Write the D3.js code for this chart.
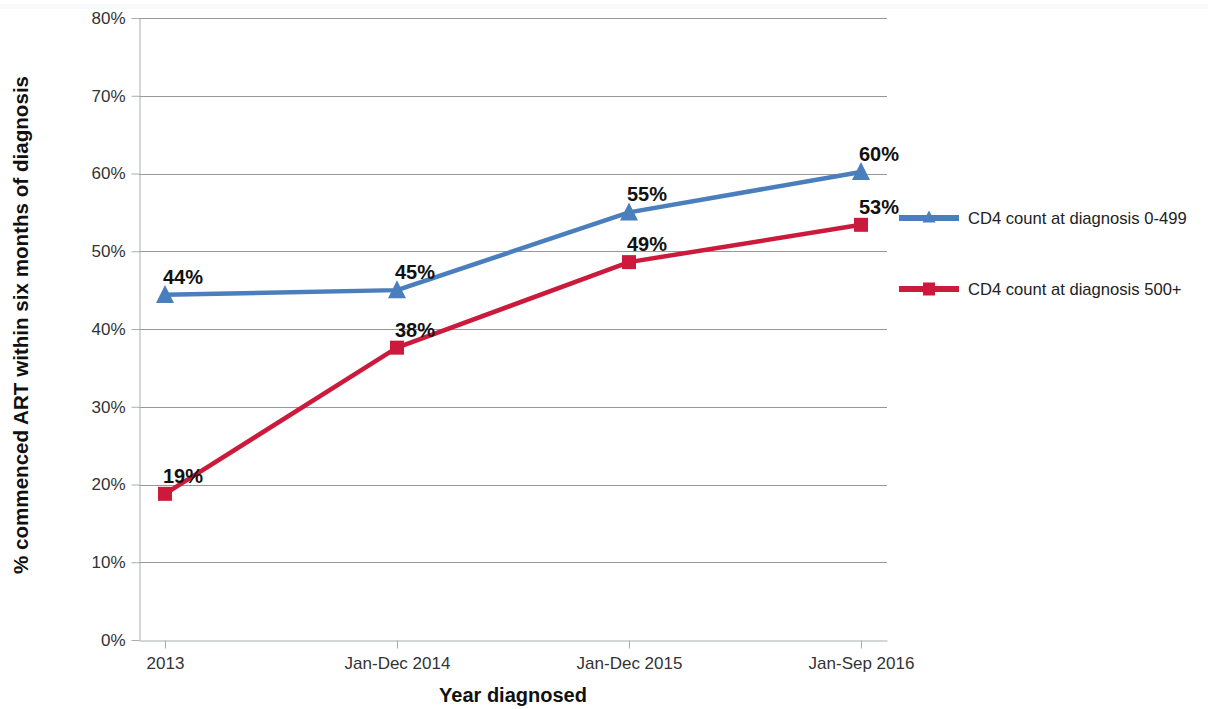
<!DOCTYPE html>
<html>
<head>
<meta charset="utf-8">
<script src="https://cdn.jsdelivr.net/npm/d3@7"></script>
<style>
  html, body { margin: 0; padding: 0; background: #fff; }
  svg { display: block; font-family: "Liberation Sans", Arial, sans-serif; }
</style>
</head>
<body>
<svg id="chart" width="1208" height="709"></svg>
<script>
// Year of diagnosis categories
const periods = ["2013", "Jan-Dec 2014", "Jan-Dec 2015", "Jan-Sep 2016"];
// % commenced ART within six months, by CD4 count at diagnosis
const cd4Low = [44.4, 45.0, 55.0, 60.2];
const cd4High = [18.8, 37.6, 48.6, 53.4];
const seriesNames = ["CD4 count at diagnosis 0-499", "CD4 count at diagnosis 500+"];
const yTicks = [0, 10, 20, 30, 40, 50, 60, 70, 80];

const svg = d3.select("#chart");
const margin = { left: 139, right: 321, top: 18, bottom: 69 };
const W = 1208, H = 709;
const FONT = "Liberation Sans, Arial, sans-serif";

// faint band across the top
svg.append("rect").attr("x", 0).attr("y", 4).attr("width", W).attr("height", 5).attr("fill", "#f7f9fd");

const x = d3.scalePoint().domain(periods)
  .range([margin.left, W - margin.right]).padding(0.112);
const y = d3.scaleLinear().domain([0, 80]).range([H - margin.bottom, margin.top]);

// gridlines
svg.append("g").selectAll("line").data(yTicks.filter(d => d > 0)).join("line")
  .attr("x1", margin.left).attr("x2", W - margin.right)
  .attr("y1", d => Math.round(y(d)) + 0.5).attr("y2", d => Math.round(y(d)) + 0.5)
  .attr("stroke", "#979797").attr("stroke-width", 1);

// y axis
const yAxis = svg.append("g").attr("transform", `translate(${margin.left + 0.5},0)`)
  .call(d3.axisLeft(y).tickValues(yTicks).tickFormat(d => d + "%").tickSizeInner(8).tickSizeOuter(0).tickPadding(6));
yAxis.select(".domain").attr("stroke", "#a8adb0");
yAxis.selectAll(".tick line").attr("stroke", "#a8adb0");
yAxis.selectAll(".tick text").attr("font-size", 17).attr("fill", "#333").attr("font-family", FONT);

// x axis
const xAxis = svg.append("g").attr("transform", `translate(0,${Math.round(y(0)) + 0.5})`)
  .call(d3.axisBottom(x).tickSizeInner(8).tickSizeOuter(0).tickPadding(8));
xAxis.select(".domain").attr("stroke", "#a8adb0");
xAxis.selectAll(".tick line").attr("stroke", "#a8adb0");
xAxis.selectAll(".tick text").attr("font-size", 17).attr("fill", "#333").attr("font-family", FONT);

// axis titles
svg.append("text").attr("x", (margin.left + W - margin.right) / 2).attr("y", 702)
  .attr("text-anchor", "middle").attr("font-size", 20).attr("font-weight", "bold").attr("fill", "#111")
  .text("Year diagnosed");
svg.append("text").attr("transform", `translate(28,${(margin.top + H - margin.bottom) / 2 - 4}) rotate(-90)`)
  .attr("text-anchor", "middle").attr("font-size", 20.6).attr("font-weight", "bold").attr("fill", "#111")
  .text("% commenced ART within six months of diagnosis");

const colors = ["#4a7ebd", "#cb1a3c"];
const series = [cd4Low, cd4High];
const line = d3.line().x((d, i) => x(periods[i])).y(d => y(d));
const triPath = (w, h) => `M0,${-h * 0.55}L${w / 2},${h * 0.45}L${-w / 2},${h * 0.45}Z`;

series.forEach((vals, s) => {
  svg.append("path").datum(vals).attr("d", line)
    .attr("fill", "none").attr("stroke", colors[s]).attr("stroke-width", 4.5).attr("stroke-linejoin", "round");
  const g = svg.append("g");
  vals.forEach((v, i) => {
    const px = x(periods[i]), py = y(v);
    if (s === 0) {
      g.append("path").attr("d", triPath(18, 18)).attr("transform", `translate(${px},${py})`).attr("fill", colors[s]);
    } else {
      g.append("rect").attr("x", px - 7).attr("y", py - 7).attr("width", 14).attr("height", 14).attr("fill", colors[s]);
    }
    g.append("text").attr("x", px - 2).attr("y", py - 11)
      .attr("font-size", 20).attr("font-weight", "bold").attr("fill", "#111")
      .text(Math.round(v) + "%");
  });
});

// legend
const legY = [218, 289];
seriesNames.forEach((name, s) => {
  const g = svg.append("g").attr("transform", `translate(899,${legY[s]})`);
  g.append("line").attr("x1", 0).attr("x2", 60).attr("y1", 0).attr("y2", 0)
    .attr("stroke", colors[s]).attr("stroke-width", 6);
  if (s === 0) {
    g.append("path").attr("d", triPath(13, 12)).attr("transform", "translate(30,-1)").attr("fill", colors[s]);
  } else {
    g.append("rect").attr("x", 24).attr("y", -6.5).attr("width", 12).attr("height", 13).attr("fill", colors[s]);
  }
  g.append("text").attr("x", 69).attr("y", 6).attr("font-size", 16.6).attr("fill", "#222").text(name);
});
</script>
</body>
</html>
